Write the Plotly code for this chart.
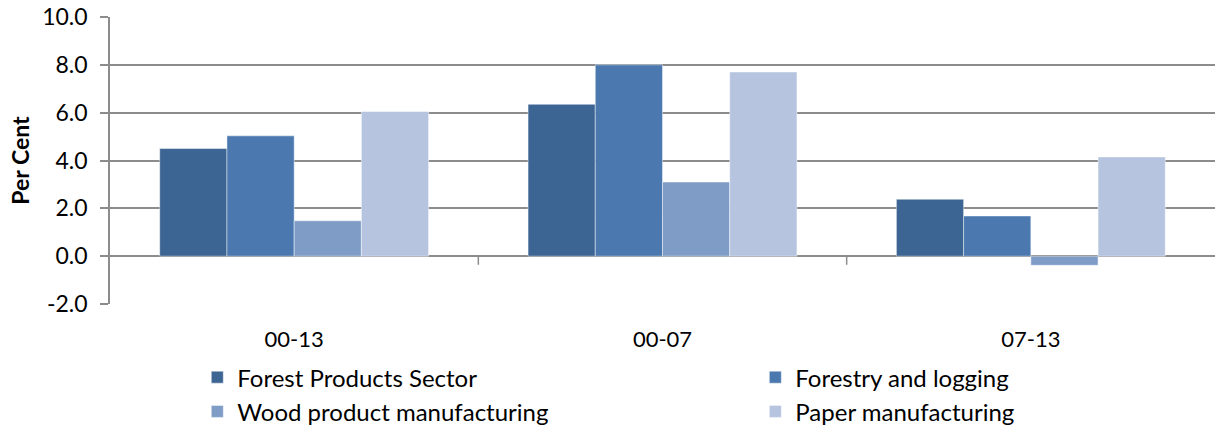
import plotly.graph_objects as go

periods = ["00-13", "00-07", "07-13"]
series_names = ["Forest Products Sector", "Forestry and logging",
                "Wood product manufacturing", "Paper manufacturing"]
forest_products = [4.5, 6.35, 2.38]
forestry_logging = [5.03, 8.0, 1.68]
wood_products = [1.48, 3.1, -0.38]
paper_mfg = [6.05, 7.7, 4.15]
y_ticks = [-2, 0, 2, 4, 6, 8, 10]
y_ticktext = ["-2.0", "0.0", "2.0", "4.0", "6.0", "8.0", "10.0"]

COLORS = ["#3d6594", "#4a78af", "#7f9cc7", "#b6c4df"]
LEGENDS = ["legend", "legend2", "legend", "legend2"]
FONT = "Lato, 'Open Sans', sans-serif"

fig = go.Figure()
for i, (name, vals, col) in enumerate(zip(series_names,
                                          [forest_products, forestry_logging, wood_products, paper_mfg],
                                          COLORS)):
    fig.add_trace(go.Bar(
        x=periods, y=vals, name=name, legend=LEGENDS[i], legendgroup=f"g{i}",
        marker=dict(color=col, line=dict(color="rgba(255,255,255,0.45)", width=1)),
    ))

# small tick marks on the zero line between categories
for xb in [0.5, 1.5]:
    fig.add_shape(type="line", xref="x", yref="y", x0=xb, x1=xb, y0=0, y1=-0.36,
                  line=dict(color="#8c8c8c", width=1.5))

leg = dict(orientation="v", y=-0.178, xanchor="left", yanchor="top",
           font=dict(size=24), traceorder="normal", tracegroupgap=13,
           bgcolor="rgba(0,0,0,0)")

fig.update_layout(
    width=1215, height=429,
    margin=dict(l=110, r=0, t=17, b=125, autoexpand=False),
    barmode="group", bargap=0.27, bargroupgap=0,
    plot_bgcolor="white", paper_bgcolor="white",
    font=dict(family=FONT, color="black", size=22),
    legend=dict(leg, x=0.079),
    legend2=dict(leg, x=0.584),
    xaxis=dict(type="category", showline=False, ticks="", ticklabelstandoff=20,
               tickfont=dict(size=22)),
    yaxis=dict(
        range=[-2, 10], tickvals=y_ticks, ticktext=y_ticktext,
        ticklabeloverflow="allow",
        showgrid=True, gridcolor="#8c8c8c", gridwidth=1.5,
        zeroline=True, zerolinecolor="#8c8c8c", zerolinewidth=1.5,
        showline=True, linecolor="#8c8c8c", linewidth=1.5,
        ticks="outside", ticklen=8, tickcolor="#8c8c8c", tickwidth=1.5,
        ticklabelstandoff=8, tickfont=dict(size=23),
        title=dict(text="<b>Per Cent</b>", font=dict(size=23), standoff=6),
    ),
)

# drop the default page margin so the figure fills the window
fig.write_html("out.html", config={"displayModeBar": False},
               post_script="document.body.style.margin='0';")
